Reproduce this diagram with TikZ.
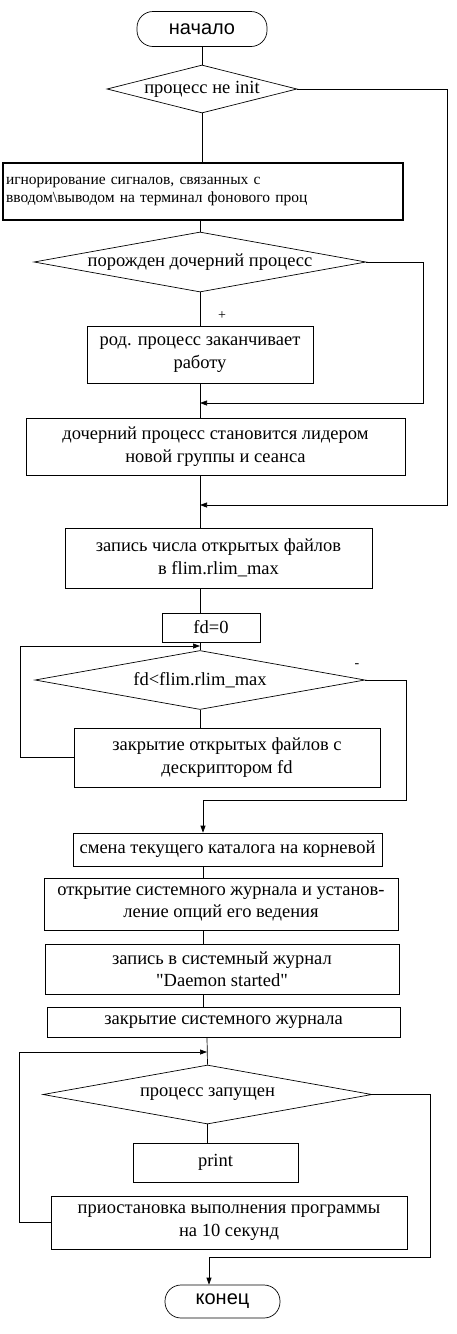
\documentclass[tikz,border=0pt]{standalone}
\usepackage{fontspec}
\setmainfont{Liberation Serif}
\newfontfamily\termfont{Liberation Sans}
\usetikzlibrary{arrows.meta,shapes.geometric,calc}

\tikzset{
  proc/.style={draw,rectangle,inner sep=2pt,align=center,font=\fontsize{18.5}{22.5}\selectfont},
  cond/.style={draw,diamond,inner sep=0pt,align=center,font=\fontsize{18.5}{22.5}\selectfont},
  term/.style={draw,rounded corners=16pt,font=\termfont\fontsize{20}{22}\selectfont},
  jump/.style={-{Triangle[length=7pt,width=5pt]}},
}

\begin{document}
\begin{tikzpicture}[x=1pt,y=-1pt,line width=0.7pt]
  \useasboundingbox (0,0) rectangle (457,1334);
  % blocks
  \node[term,minimum width=130pt,minimum height=35pt] (start) at (202,29) {начало};
  \node[cond,shape aspect=3.96,minimum width=190pt,minimum height=48pt] (ifinit) at (202,89) {процесс не init};
  \node[proc,line width=1.6pt,minimum width=400pt,minimum height=57pt,text width=394pt,align=left,
    font=\fontsize{15.5}{18.5}\selectfont] (ignore) at (203,191.5)
    {игнорирование сигналов, связанных с\\ вводом\textbackslash выводом на терминал фонового проц};
  \node[cond,shape aspect=5.53,minimum width=332pt,minimum height=60pt] (iffork) at (200,262) {порожден дочерний процесс};
  \node[proc,minimum width=226pt,minimum height=57pt] (parent) at (200,354.5) {род. процесс заканчивает\\ работу};
  \node[proc,minimum width=379pt,minimum height=57pt] (leader) at (215.5,446.5) {дочерний процесс становится лидером\\ новой группы и сеанса};
  \node[proc,minimum width=307pt,minimum height=60pt] (rlimit) at (218.5,558) {запись числа открытых файлов\\ в flim.rlim\_max};
  \node[proc,minimum width=98pt,minimum height=29pt] (fdzero) at (211,627.5) {fd=0};
  \node[cond,shape aspect=5.6,minimum width=330pt,minimum height=59pt] (iffd) at (200,680) {fd<flim.rlim\_max};
  \node[proc,minimum width=306pt,minimum height=59pt] (closefd) at (227,757.5) {закрытие открытых файлов с\\ дескриптором fd};
  \node[proc,minimum width=309pt,minimum height=33pt] (chdir) at (227.5,849.5) {смена текущего каталога на корневой};
  \node[proc,minimum width=354pt,minimum height=52pt] (openlog) at (221,904) {открытие системного журнала и установ-\\ ление опций его ведения};
  \node[proc,minimum width=354pt,minimum height=50pt] (writelog) at (222,969) {запись в системный журнал\\ \textquotedbl Daemon started\textquotedbl};
  \node[proc,minimum width=353pt,minimum height=30pt] (closelog) at (223.5,1022) {закрытие системного журнала};
  \node[cond,shape aspect=5.58,minimum width=329pt,minimum height=59pt] (ifrun) at (207.5,1094.5) {процесс запущен};
  \node[proc,minimum width=165pt,minimum height=39pt] (print) at (215.5,1162.5) {print};
  \node[proc,minimum width=356pt,minimum height=53pt] (sleep) at (229,1222.5) {приостановка выполнения программы\\ на 10 секунд};
  \node[term,minimum width=115pt,minimum height=33pt] (stop) at (222.5,1301.5) {конец};
  \node[font=\fontsize{14}{14}\selectfont] (plus) at (222,316) {+};
  \node[font=\fontsize{14}{14}\selectfont] (minus) at (357,666) {-};
  % joints
  \coordinate (jfork) at (200,403);
  \coordinate (jinit) at (200,505);
  \coordinate (jloop) at (200,646);
  \coordinate (jend) at (203,800);
  \coordinate (jrun) at (207,1052);
  \coordinate (jstop) at (209,1257);
  % connectors
  \draw (start) -- (ifinit);
  \draw (ifinit.south) -- (ifinit.south |- ignore.north);
  \draw (iffork.north |- ignore.south) -- (iffork.north);
  \draw (iffork.south) -- (iffork.south |- parent.north);
  \draw (jfork |- parent.south) -- (jfork |- leader.north);
  \draw[jump] (iffork.east) -- ++(57,0) |- (jfork);
  \draw (jinit |- leader.south) -- (jinit |- rlimit.north);
  \draw[jump] (ifinit.east) -- ++(150,0) |- (jinit);
  \draw (jloop |- rlimit.south) -- (jloop |- fdzero.north);
  \draw (jloop |- fdzero.south) -- (iffd.north);
  \draw (iffd.south) -- (iffd.south |- closefd.north);
  \draw[jump] (closefd.west) -- ++(-53,0) |- (jloop);
  \draw (iffd.east) -- ++(41,0) |- (jend);
  \draw[jump] (jend) -- (jend |- chdir.north);
  \draw (jend |- chdir.south) -- (jend |- openlog.north);
  \draw (jend |- openlog.south) -- (jend |- writelog.north);
  \draw (jend |- writelog.south) -- (jend |- closelog.north);
  \draw (jrun |- closelog.south) -- (ifrun.north);
  \draw (ifrun.south) -- (ifrun.south |- print.north);
  \draw[jump] (sleep.west) -- ++(-31,0) |- (jrun);
  \draw (ifrun.east) -- ++(58,0) |- (jstop);
  \draw[jump] (jstop) -- (jstop |- stop.north);
\end{tikzpicture}
\end{document}
